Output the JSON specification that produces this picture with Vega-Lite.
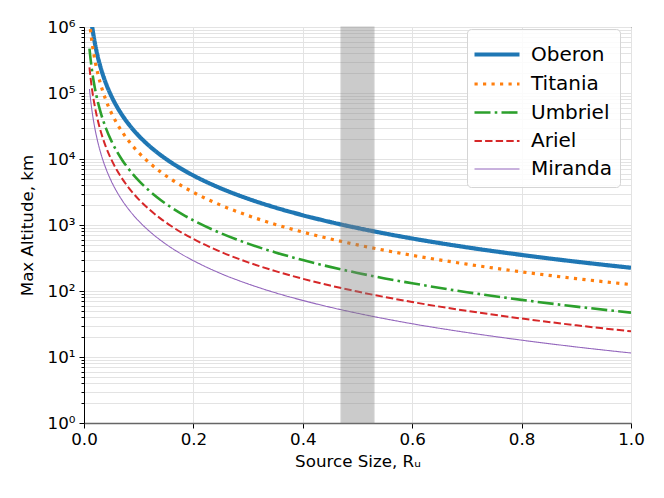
{
  "$schema": "https://vega.github.io/schema/vega-lite/v6.json",
  "width": 547,
  "height": 396,
  "autosize": {"type": "none"},
  "padding": {"left": 84, "top": 27, "right": 33, "bottom": 75},
  "background": "white",
  "config": {
    "font": "DejaVu Sans",
    "view": {"stroke": "black", "strokeWidth": 1},
    "axis": {
      "gridColor": "#e3e3e3",
      "gridWidth": 1,
      "tickColor": "black",
      "domainColor": "black",
      "labelColor": "black",
      "titleColor": "black",
      "labelFont": "DejaVu Sans",
      "titleFont": "DejaVu Sans",
      "labelFontSize": 16.7,
      "titleFontSize": 16.7,
      "titleFontWeight": "normal"
    },
    "legend": {
      "title": null,
      "orient": "none",
      "legendX": 383,
      "legendY": 2,
      "symbolType": "M-1.2,0H1.8",
      "symbolSize": 900,
      "symbolFillColor": "transparent",
      "labelFontSize": 20,
      "labelFont": "DejaVu Sans",
      "labelColor": "black",
      "labelOffset": 21,
      "padding": 8,
      "strokeColor": "#d5d5d5",
      "cornerRadius": 4,
      "fillColor": "rgba(255,255,255,0.85)"
    }
  },
  "layer": [
    {
      "data": {
        "values": [
          {"x": 0.01, "Oberon": 2250000, "Titania": 1250000, "Umbriel": 470000, "Ariel": 245000, "Miranda": 115000},
          {"x": 0.012, "Oberon": 1562500, "Titania": 868056, "Umbriel": 326389, "Ariel": 170139, "Miranda": 79861},
          {"x": 0.014, "Oberon": 1147959, "Titania": 637755, "Umbriel": 239796, "Ariel": 125000, "Miranda": 58673},
          {"x": 0.016, "Oberon": 878906, "Titania": 488281, "Umbriel": 183594, "Ariel": 95703, "Miranda": 44922},
          {"x": 0.018, "Oberon": 694444, "Titania": 385802, "Umbriel": 145062, "Ariel": 75617, "Miranda": 35494},
          {"x": 0.02, "Oberon": 562500, "Titania": 312500, "Umbriel": 117500, "Ariel": 61250, "Miranda": 28750},
          {"x": 0.025, "Oberon": 360000, "Titania": 200000, "Umbriel": 75200, "Ariel": 39200, "Miranda": 18400},
          {"x": 0.03, "Oberon": 250000, "Titania": 138889, "Umbriel": 52222, "Ariel": 27222, "Miranda": 12778},
          {"x": 0.035, "Oberon": 183673, "Titania": 102041, "Umbriel": 38367, "Ariel": 20000, "Miranda": 9388},
          {"x": 0.04, "Oberon": 140625, "Titania": 78125, "Umbriel": 29375, "Ariel": 15313, "Miranda": 7188},
          {"x": 0.05, "Oberon": 90000, "Titania": 50000, "Umbriel": 18800, "Ariel": 9800, "Miranda": 4600},
          {"x": 0.06, "Oberon": 62500, "Titania": 34722, "Umbriel": 13056, "Ariel": 6806, "Miranda": 3194},
          {"x": 0.07, "Oberon": 45918, "Titania": 25510, "Umbriel": 9592, "Ariel": 5000, "Miranda": 2347},
          {"x": 0.08, "Oberon": 35156, "Titania": 19531, "Umbriel": 7344, "Ariel": 3828, "Miranda": 1797},
          {"x": 0.09, "Oberon": 27778, "Titania": 15432, "Umbriel": 5802, "Ariel": 3025, "Miranda": 1420},
          {"x": 0.1, "Oberon": 22500, "Titania": 12500, "Umbriel": 4700, "Ariel": 2450, "Miranda": 1150},
          {"x": 0.12, "Oberon": 15625, "Titania": 8681, "Umbriel": 3264, "Ariel": 1701, "Miranda": 799},
          {"x": 0.14, "Oberon": 11480, "Titania": 6378, "Umbriel": 2398, "Ariel": 1250, "Miranda": 587},
          {"x": 0.16, "Oberon": 8789, "Titania": 4883, "Umbriel": 1836, "Ariel": 957, "Miranda": 449},
          {"x": 0.18, "Oberon": 6944, "Titania": 3858, "Umbriel": 1451, "Ariel": 756, "Miranda": 355},
          {"x": 0.2, "Oberon": 5625, "Titania": 3125, "Umbriel": 1175, "Ariel": 613, "Miranda": 288},
          {"x": 0.25, "Oberon": 3600, "Titania": 2000, "Umbriel": 752, "Ariel": 392, "Miranda": 184},
          {"x": 0.3, "Oberon": 2500, "Titania": 1389, "Umbriel": 522, "Ariel": 272, "Miranda": 128},
          {"x": 0.35, "Oberon": 1837, "Titania": 1020, "Umbriel": 384, "Ariel": 200, "Miranda": 93.9},
          {"x": 0.4, "Oberon": 1406, "Titania": 781, "Umbriel": 294, "Ariel": 153, "Miranda": 71.9},
          {"x": 0.45, "Oberon": 1111, "Titania": 617, "Umbriel": 232, "Ariel": 121, "Miranda": 56.8},
          {"x": 0.5, "Oberon": 900, "Titania": 500, "Umbriel": 188, "Ariel": 98, "Miranda": 46},
          {"x": 0.55, "Oberon": 744, "Titania": 413, "Umbriel": 155, "Ariel": 81, "Miranda": 38},
          {"x": 0.6, "Oberon": 625, "Titania": 347, "Umbriel": 131, "Ariel": 68.1, "Miranda": 31.9},
          {"x": 0.7, "Oberon": 459, "Titania": 255, "Umbriel": 95.9, "Ariel": 50, "Miranda": 23.5},
          {"x": 0.8, "Oberon": 352, "Titania": 195, "Umbriel": 73.4, "Ariel": 38.3, "Miranda": 18},
          {"x": 0.9, "Oberon": 278, "Titania": 154, "Umbriel": 58, "Ariel": 30.2, "Miranda": 14.2},
          {"x": 1.0, "Oberon": 225, "Titania": 125, "Umbriel": 47, "Ariel": 24.5, "Miranda": 11.5}
        ]
      },
      "transform": [{"fold": ["Oberon", "Titania", "Umbriel", "Ariel", "Miranda"], "as": ["moon", "alt"]}],
      "mark": {"type": "line", "clip": true, "interpolate": "monotone"},
      "encoding": {
        "x": {
          "field": "x",
          "type": "quantitative",
          "scale": {"domain": [0, 1], "nice": false, "zero": false},
          "axis": {
            "title": "Source Size, Rᵤ",
            "values": [0, 0.2, 0.4, 0.6, 0.8, 1.0],
            "format": ".1f",
            "tickSize": 5,
            "labelPadding": 3,
            "labelFlush": false,
            "titlePadding": 6,
            "domainColor": "#666666",
            "domainWidth": 1.5,
            "grid": true
          }
        },
        "y": {
          "field": "alt",
          "type": "quantitative",
          "scale": {"type": "log", "domain": [1, 1000000], "nice": false},
          "axis": {
            "title": "Max Altitude, km",
            "values": [1,2,3,4,5,6,7,8,9,10,20,30,40,50,60,70,80,90,100,200,300,400,500,600,700,800,900,1000,2000,3000,4000,5000,6000,7000,8000,9000,10000,20000,30000,40000,50000,60000,70000,80000,90000,100000,200000,300000,400000,500000,600000,700000,800000,900000,1000000],
            "labelExpr": "abs(log(datum.value)/LN10 - round(log(datum.value)/LN10)) < 0.0001 ? '10' + ['⁰','¹','²','³','⁴','⁵','⁶'][round(log(datum.value)/LN10)] : ''",
            "tickSize": {"condition": {"test": "abs(log(datum.value)/LN10 - round(log(datum.value)/LN10)) < 0.0001", "value": 5}, "value": 3},
            "labelPadding": 4,
            "titlePadding": 11,
            "grid": true,
            "labelOverlap": false,
            "labelBound": false,
            "labelFlush": false
          }
        },
        "color": {
          "field": "moon",
          "type": "nominal",
          "scale": {"domain": ["Oberon", "Titania", "Umbriel", "Ariel", "Miranda"], "range": ["#1f77b4", "#ff7f0e", "#2ca02c", "#d62728", "#9467bd"]}
        },
        "strokeDash": {
          "field": "moon",
          "type": "nominal",
          "scale": {"domain": ["Oberon", "Titania", "Umbriel", "Ariel", "Miranda"], "range": [[1, 0], [3.2, 5.3], [16, 4.2, 2.6, 4.2], [7.4, 3.2], [1, 0]]}
        },
        "strokeWidth": {
          "field": "moon",
          "type": "nominal",
          "scale": {"type": "ordinal", "domain": ["Oberon", "Titania", "Umbriel", "Ariel", "Miranda"], "range": [4.2, 3.2, 2.6, 2, 1.1]}
        }
      }
    },
    {
      "data": {"values": [{"a": 0.47, "b": 0.53}]},
      "mark": {"type": "rect", "fill": "#808080", "opacity": 0.4, "stroke": "#808080", "strokeWidth": 1.2},
      "encoding": {
        "x": {"field": "a", "type": "quantitative"},
        "x2": {"field": "b"}
      }
    }
  ]
}
